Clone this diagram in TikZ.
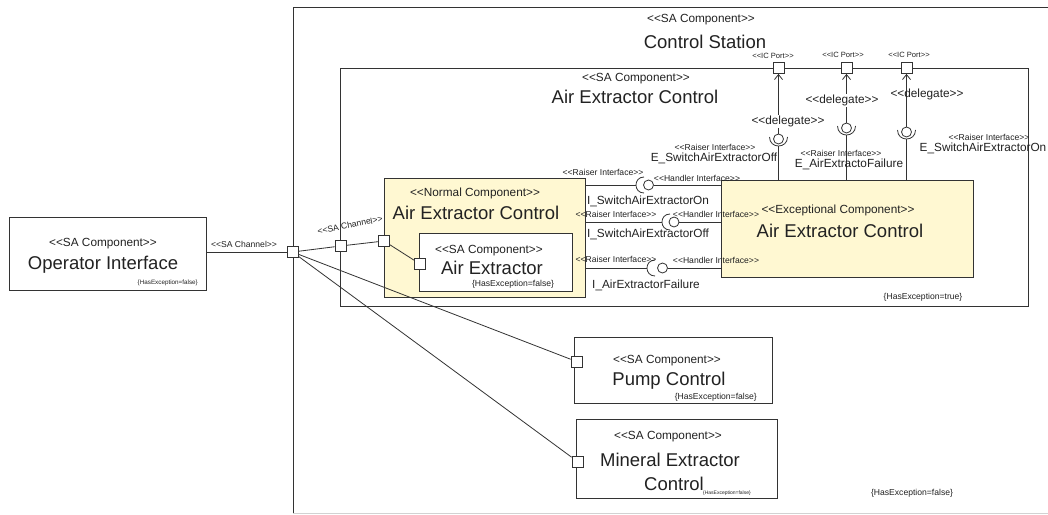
\documentclass[tikz,border=0pt]{standalone}
\usepackage{fontspec}
\setmainfont{Liberation Sans}
\usetikzlibrary{arrows.meta,calc}
\definecolor{lc}{HTML}{333333}
\definecolor{tc}{HTML}{222222}
\definecolor{yel}{HTML}{FFF8D2}
\newcommand{\stl}{<\kern0pt<}
\newcommand{\stg}{>\kern0pt>}
\begin{document}
\begin{tikzpicture}[x=1pt,y=-1pt,
  box/.style={draw=lc, line width=0.9pt, inner sep=0, anchor=north west},
  port/.style={draw=lc, fill=white, minimum size=11pt, inner sep=0, line width=0.8pt},
  ball/.style={circle, draw=lc, fill=white, minimum size=10pt, inner sep=0, line width=0.8pt},
  conn/.style={draw=lc, line width=0.8pt},
  dlg/.style={conn, -{Straight Barb[length=5pt,width=8pt]}},
  big/.style={text=tc, inner sep=0, font=\fontsize{18.5}{20}\selectfont},
  med/.style={text=tc, inner sep=0, font=\fontsize{11.8}{13}\selectfont},
  sml/.style={text=tc, inner sep=0, font=\fontsize{8.6}{9}\selectfont},
  icl/.style={text=tc, inner sep=0, font=\fontsize{7.6}{8}\selectfont},
  tny/.style={text=tc, inner sep=0, font=\fontsize{6.3}{7}\selectfont}]
\useasboundingbox (0,0) rectangle (1048,514);
\fill[white] (0,0) rectangle (1048,514);

% outer Control Station
\draw[lc, line width=0.9pt] (1052,7) -- (293,7) -- (293,513);
\draw[gray!35, line width=0.8pt] (293,513) -- (1052,513);
\node[med] (csst) at (701,20) {\stl SA Component\stg};
\node[big] (csnm) at (705,42) {Control Station};
\node[sml] (csex) at (912,493) {\{HasException=false\}};

% Operator Interface
\node[box, minimum width=197, minimum height=73] (opi) at (9,217) {};
\node[med] at (103,244) {\stl SA Component\stg};
\node[big] at (103,265) {Operator Interface};
\node[tny, anchor=east] at (198,283) {\{HasException=false\}};

% Air Extractor Control (SA)
\node[box, minimum width=688, minimum height=238] (aec) at (340,68) {};
\node[med] at (636,79) {\stl SA Component\stg};
\node[big] at (635,97) {Air Extractor Control};
\node[sml] at (923,297) {\{HasException=true\}};

% Normal component
\node[box, fill=yel, minimum width=201, minimum height=119] (nrm) at (384,178) {};
\node[med] at (475,193) {\stl Normal Component\stg};
\node[big] at (476,213) {Air Extractor Control};

% Air Extractor
\node[box, fill=white, minimum width=153, minimum height=58] (ae) at (419,233) {};
\node[med] at (489,251) {\stl SA Component\stg};
\node[big] at (492,268) {Air Extractor};
\node[sml] at (513,284) {\{HasException=false\}};

% Exceptional component
\node[box, fill=yel, minimum width=252, minimum height=97] (exc) at (721,180) {};
\node[med] at (838,210) {\stl Exceptional Component\stg};
\node[big] at (840,231) {Air Extractor Control};

% Pump Control
\node[box, minimum width=198, minimum height=66] (pmp) at (574,337) {};
\node[med] at (667,361) {\stl SA Component\stg};
\node[big] at (669,381) {Pump Control};
\node[sml, anchor=east] at (757,397) {\{HasException=false\}};

% Mineral Extractor Control
\node[box, minimum width=201, minimum height=79] (mec) at (576,419) {};
\node[med] at (668,437) {\stl SA Component\stg};
\node[big] at (670,460) {Mineral Extractor};
\node[big] at (674,484) {Control};
\node[text=tc, inner sep=0, font=\fontsize{5}{6}\selectfont, anchor=east] at (751,493) {\{HasException=false\}};

% ports
\node[port] (pA) at (292.5,252) {};
\node[port] (pB) at (340.5,246) {};
\node[port] (pC) at (384,241) {};
\node[port] (pD) at (420,264) {};
\node[port] (pP) at (576.5,361.5) {};
\node[port] (pM) at (577.5,461.5) {};
\node[port] (ic1) at (778.5,68) {};
\node[port] (ic2) at (846.5,68) {};
\node[port] (ic3) at (906.5,68) {};
\node[icl] at (773,56) {\stl IC Port\stg};
\node[icl] at (843,55) {\stl IC Port\stg};
\node[icl] at (909,55) {\stl IC Port\stg};

% channels
\draw[conn] (opi.east |- pA) -- (pA);
\node[sml] at (244,244) {\stl SA Channel\stg};
\draw[conn] (pA) -- (pB);
\draw[conn] (pB) -- (pC);
\draw[conn] (pC) -- (pD);
\draw[conn] (pA) -- (pP);
\draw[conn] (pA) -- (pM);
\node[sml, rotate=11] at (350,225) {\stl SA Channel\stg};

% horizontal interfaces
\node[ball] (hb1) at (648.5,185) {};
\coordinate (hs1) at (636,185);
\draw[conn] (644,177) .. controls (633.3,177) and (633.3,193) .. (644,193);
\draw[conn] (nrm.east |- hs1) -- (hs1);
\draw[conn] (hb1) -- (exc.west |- hb1);
\node[sml] at (603,172) {\stl Raiser Interface\stg};
\node[sml] at (697,178) {\stl Handler Interface\stg};
\node[med] at (648,201) {I\_SwitchAirExtractorOn};

\node[ball] (hb2) at (674,222) {};
\coordinate (hs2) at (662,222);
\draw[conn] (670,214) .. controls (659.3,214) and (659.3,230) .. (670,230);
\draw[conn] (nrm.east |- hs2) -- (hs2);
\draw[conn] (hb2) -- (exc.west |- hb2);
\node[sml] at (616,214) {\stl Raiser Interface\stg};
\node[sml] at (716,214) {\stl Handler Interface\stg};
\node[med] at (648,234) {I\_SwitchAirExtractorOff};

\node[ball] (hb3) at (662.5,268) {};
\coordinate (hs3) at (647,268);
\draw[conn] (655,260) .. controls (644.3,260) and (644.3,276) .. (655,276);
\draw[conn] (nrm.east |- hs3) -- (hs3);
\draw[conn] (hb3) -- (exc.west |- hb3);
\node[sml] at (616,259) {\stl Raiser Interface\stg};
\node[sml] at (716,260) {\stl Handler Interface\stg};
\node[med] at (646,285) {I\_AirExtractorFailure};

% vertical delegates
\node[ball] (vb1) at (778.5,139) {};
\coordinate (vs1) at (778.5,146);
\draw[conn] (769.5,137) .. controls (769.5,149) and (787.5,149) .. (787.5,137);
\draw[conn] (exc.north -| vs1) -- (vs1);
\draw[dlg] (vb1) -- (ic1);
\node[med, fill=white, inner sep=1pt] at (788,121) {\stl delegate\stg};
\node[sml] at (715,147) {\stl Raiser Interface\stg};
\node[med] at (714,158) {E\_SwitchAirExtractorOff};

\node[ball] (vb2) at (846.5,128) {};
\coordinate (vs2) at (846.5,135);
\draw[conn] (837.5,126) .. controls (837.5,138) and (855.5,138) .. (855.5,126);
\draw[conn] (exc.north -| vs2) -- (vs2);
\draw[dlg] (vb2) -- (ic2);
\node[med, fill=white, inner sep=1pt] at (842,100) {\stl delegate\stg};
\node[sml] at (841,153) {\stl Raiser Interface\stg};
\node[med] at (849,164) {E\_AirExtractoFailure};

\node[ball] (vb3) at (906.5,132) {};
\coordinate (vs3) at (906.5,139);
\draw[conn] (897.5,130) .. controls (897.5,142) and (915.5,142) .. (915.5,130);
\draw[conn] (exc.north -| vs3) -- (vs3);
\draw[dlg] (vb3) -- (ic3);
\node[med] at (927,94) {\stl delegate\stg};
\node[sml] at (989,137) {\stl Raiser Interface\stg};
\node[med] at (983,148) {E\_SwitchAirExtractorOn};
\end{tikzpicture}
\end{document}
